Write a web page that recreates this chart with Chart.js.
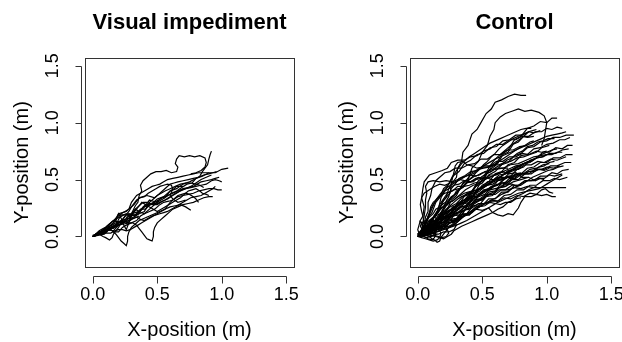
<!DOCTYPE html>
<html>
<head>
<meta charset="utf-8">
<script src="https://cdn.jsdelivr.net/npm/chart.js@4.4.1/dist/chart.umd.min.js"></script>
<style>
html,body{margin:0;padding:0;background:#fff;overflow:hidden;width:622px;height:342px;}
canvas{position:absolute;top:0;}
#c1{left:0px;}
#c2{left:311px;}
</style>
</head>
<body>
<canvas id="c1" width="379" height="342"></canvas>
<canvas id="c2" width="407" height="342"></canvas>
<script>
const panelTitles = ['Visual impediment', 'Control'];
const xAxisTitle = 'X-position (m)';
const yAxisTitle = 'Y-position (m)';
const xTickValues = [0, 0.5, 1.0, 1.5];
const yTickValues = [0, 0.5, 1.0, 1.5];
const xLimits = [-0.06, 1.56];
const yLimits = [-0.268, 1.568];

// Visual impediment trajectories: x,y pairs (m)
const impedimentTrials = [
 [0,0, 0.04,0.03, 0.08,0.02, 0.12,0.06, 0.16,0.05, 0.2,0.1, 0.24,0.12, 0.27,0.18, 0.3,0.2, 0.33,0.27, 0.35,0.3, 0.36,0.36, 0.38,0.4, 0.37,0.45, 0.39,0.49, 0.42,0.52, 0.45,0.55, 0.49,0.57, 0.53,0.57, 0.57,0.58, 0.61,0.56, 0.65,0.57, 0.66,0.61, 0.64,0.64, 0.65,0.68, 0.67,0.71, 0.71,0.7, 0.75,0.71, 0.79,0.7, 0.83,0.71, 0.87,0.69, 0.88,0.65, 0.87,0.61, 0.84,0.58, 0.8,0.56, 0.76,0.55],
 [0,0, 0.05,0.04, 0.09,0.04, 0.13,0.08, 0.17,0.08, 0.21,0.13, 0.25,0.14, 0.29,0.19, 0.33,0.19, 0.37,0.24, 0.41,0.24, 0.45,0.29, 0.49,0.29, 0.53,0.34, 0.57,0.35, 0.61,0.38, 0.65,0.4, 0.69,0.43, 0.73,0.46, 0.77,0.47, 0.8,0.51, 0.83,0.53, 0.85,0.57, 0.87,0.6, 0.89,0.63, 0.9,0.68, 0.91,0.72, 0.92,0.75],
 [0,0, 0.05,0.02, 0.1,0.06, 0.15,0.07, 0.2,0.12, 0.25,0.13, 0.3,0.18, 0.35,0.2, 0.4,0.26, 0.45,0.28, 0.5,0.33, 0.55,0.35, 0.6,0.4, 0.65,0.42, 0.7,0.46, 0.75,0.48, 0.8,0.51, 0.85,0.53, 0.9,0.56, 0.95,0.56, 1.0,0.59, 1.05,0.6],
 [0.02,0.01, 0.06,0.03, 0.1,0.04, 0.14,0.08, 0.18,0.1, 0.2,0.15, 0.22,0.19, 0.26,0.19, 0.3,0.2, 0.33,0.24, 0.36,0.27, 0.39,0.3, 0.42,0.3, 0.46,0.28, 0.5,0.28, 0.54,0.31, 0.58,0.33, 0.62,0.36, 0.65,0.38, 0.69,0.41, 0.72,0.42, 0.76,0.43, 0.8,0.44, 0.84,0.45, 0.88,0.46, 0.92,0.49, 0.95,0.5, 0.98,0.49, 1.0,0.48],
 [0,0, 0.04,0.01, 0.08,0.02, 0.11,0.05, 0.14,0.06, 0.17,0.04, 0.2,0.04, 0.23,0.08, 0.26,0.1, 0.3,0.12, 0.34,0.14, 0.37,0.18, 0.4,0.2, 0.44,0.22, 0.48,0.24, 0.52,0.28, 0.55,0.3, 0.59,0.31, 0.62,0.32, 0.66,0.35, 0.7,0.36, 0.74,0.37, 0.78,0.38, 0.82,0.4, 0.86,0.41, 0.9,0.42, 0.94,0.42, 0.97,0.41, 1.0,0.41],
 [0,0, 0.03,0.01, 0.06,0.02, 0.09,0.05, 0.12,0.07, 0.16,0.08, 0.2,0.1, 0.24,0.11, 0.28,0.12, 0.31,0.12, 0.34,0.1, 0.36,0.07, 0.38,0.04, 0.4,0.01, 0.42,-0.02, 0.44,-0.03, 0.46,-0.04, 0.47,0.0, 0.47,0.04, 0.48,0.08, 0.5,0.12, 0.53,0.15, 0.56,0.18, 0.59,0.21, 0.62,0.24, 0.66,0.26, 0.7,0.28, 0.74,0.29, 0.78,0.3, 0.82,0.32, 0.86,0.34, 0.9,0.35, 0.93,0.35],
 [0.01,0, 0.04,0.02, 0.07,0.04, 0.1,0.05, 0.14,0.06, 0.16,0.04, 0.18,0.02, 0.2,-0.01, 0.22,-0.04, 0.24,-0.06, 0.26,-0.08, 0.27,-0.04, 0.27,0.0, 0.28,0.04, 0.3,0.08, 0.33,0.11, 0.36,0.14, 0.4,0.16, 0.44,0.18, 0.48,0.2, 0.52,0.22, 0.56,0.24, 0.6,0.26, 0.64,0.27, 0.68,0.28, 0.72,0.26, 0.76,0.23],
 [0,0, 0.03,0.02, 0.05,0.02, 0.08,0.0, 0.1,-0.01, 0.13,-0.03, 0.15,-0.01, 0.16,0.02, 0.18,0.05, 0.2,0.08, 0.22,0.12, 0.24,0.16, 0.26,0.19, 0.28,0.2, 0.31,0.19, 0.33,0.18, 0.36,0.2, 0.4,0.22, 0.42,0.26, 0.44,0.3, 0.47,0.33, 0.5,0.36, 0.53,0.38, 0.56,0.4, 0.6,0.42, 0.64,0.44, 0.68,0.46, 0.72,0.47, 0.76,0.47, 0.8,0.46, 0.83,0.45, 0.86,0.43],
 [0,0.01, 0.05,0.03, 0.1,0.05, 0.13,0.09, 0.16,0.12, 0.18,0.16, 0.2,0.2, 0.23,0.21, 0.26,0.22, 0.29,0.25, 0.32,0.28, 0.34,0.31, 0.36,0.34, 0.39,0.35, 0.42,0.36, 0.45,0.35, 0.48,0.34, 0.51,0.37, 0.54,0.4, 0.57,0.43, 0.6,0.46, 0.63,0.47, 0.66,0.48, 0.7,0.49, 0.74,0.5, 0.78,0.51, 0.82,0.52, 0.86,0.54, 0.9,0.55, 0.93,0.56, 0.96,0.57],
 [0.02,0.02, 0.05,0.04, 0.08,0.06, 0.11,0.08, 0.15,0.1, 0.18,0.12, 0.22,0.14, 0.25,0.15, 0.28,0.16, 0.31,0.2, 0.34,0.24, 0.36,0.27, 0.38,0.3, 0.41,0.28, 0.44,0.26, 0.47,0.24, 0.5,0.22, 0.53,0.24, 0.56,0.26, 0.59,0.28, 0.62,0.3, 0.65,0.32, 0.68,0.34, 0.71,0.37, 0.74,0.4, 0.77,0.41, 0.8,0.42, 0.83,0.4, 0.85,0.38, 0.88,0.37, 0.9,0.36],
 [0,0, 0.04,0.02, 0.07,0.03, 0.1,0.06, 0.14,0.08, 0.17,0.1, 0.2,0.12, 0.23,0.15, 0.25,0.18, 0.28,0.22, 0.3,0.26, 0.32,0.29, 0.34,0.32, 0.37,0.34, 0.4,0.35, 0.43,0.38, 0.46,0.4, 0.49,0.42, 0.52,0.44, 0.55,0.45, 0.58,0.46, 0.61,0.45, 0.62,0.42, 0.61,0.39, 0.6,0.36, 0.62,0.33, 0.66,0.3, 0.69,0.31, 0.72,0.32],
 [0,0, 0.05,0.02, 0.09,0.04, 0.13,0.07, 0.17,0.09, 0.21,0.11, 0.26,0.13, 0.3,0.15, 0.34,0.17, 0.37,0.15, 0.4,0.14, 0.43,0.16, 0.46,0.18, 0.49,0.19, 0.52,0.2, 0.55,0.21, 0.58,0.22, 0.61,0.24, 0.64,0.26, 0.67,0.28, 0.7,0.3, 0.73,0.32, 0.76,0.34, 0.8,0.35, 0.84,0.36, 0.87,0.38, 0.9,0.4, 0.93,0.42, 0.95,0.44],
 [0,0, 0.03,0.02, 0.06,0.04, 0.09,0.07, 0.12,0.1, 0.15,0.13, 0.18,0.16, 0.2,0.18, 0.22,0.2, 0.25,0.22, 0.28,0.24, 0.29,0.27, 0.3,0.3, 0.32,0.33, 0.34,0.36, 0.37,0.38, 0.4,0.4, 0.43,0.42, 0.46,0.44, 0.49,0.45, 0.52,0.46, 0.55,0.48, 0.58,0.5, 0.62,0.51, 0.66,0.52, 0.7,0.53, 0.74,0.54, 0.78,0.55, 0.82,0.56, 0.86,0.56, 0.9,0.56],
 [0.01,0.01, 0.04,0.02, 0.08,0.03, 0.11,0.03, 0.14,0.03, 0.17,0.05, 0.2,0.06, 0.23,0.06, 0.26,0.05, 0.29,0.06, 0.32,0.08, 0.35,0.1, 0.38,0.12, 0.41,0.14, 0.44,0.16, 0.47,0.18, 0.5,0.2, 0.53,0.22, 0.56,0.24, 0.58,0.27, 0.6,0.3, 0.63,0.33, 0.66,0.36, 0.69,0.37, 0.72,0.38, 0.75,0.37, 0.78,0.35, 0.8,0.33, 0.82,0.3],
 [0,0, 0.03,0.03, 0.05,0.05, 0.08,0.07, 0.1,0.08, 0.13,0.11, 0.16,0.14, 0.19,0.13, 0.22,0.12, 0.25,0.13, 0.28,0.14, 0.29,0.17, 0.3,0.2, 0.33,0.21, 0.36,0.22, 0.39,0.25, 0.42,0.28, 0.45,0.29, 0.48,0.3, 0.51,0.32, 0.54,0.34, 0.58,0.36, 0.62,0.38, 0.66,0.4, 0.7,0.42, 0.74,0.43, 0.78,0.44, 0.81,0.46, 0.84,0.48, 0.88,0.49, 0.92,0.5, 0.95,0.51, 0.98,0.52],
 [0,0, 0.02,0.01, 0.04,0.02, 0.06,0.04, 0.09,0.06, 0.11,0.09, 0.13,0.11, 0.15,0.13, 0.17,0.14, 0.19,0.16, 0.21,0.17, 0.24,0.19, 0.26,0.2, 0.28,0.18, 0.3,0.16, 0.33,0.18, 0.35,0.2, 0.37,0.23, 0.39,0.26, 0.42,0.29, 0.44,0.32, 0.47,0.31, 0.5,0.3, 0.53,0.32, 0.56,0.34, 0.58,0.37, 0.6,0.4, 0.63,0.42, 0.65,0.44, 0.7,0.44],
 [0.01,0.0, 0.03,0.02, 0.05,0.03, 0.07,0.02, 0.09,0.02, 0.11,0.04, 0.12,0.06, 0.14,0.07, 0.16,0.07, 0.18,0.09, 0.2,0.1, 0.22,0.12, 0.23,0.14, 0.25,0.13, 0.27,0.12, 0.29,0.14, 0.31,0.16, 0.34,0.17, 0.36,0.18],
 [0,0, 0.05,0.03, 0.1,0.06, 0.14,0.1, 0.18,0.14, 0.2,0.2, 0.22,0.16, 0.24,0.1, 0.26,0.06, 0.28,0.12, 0.3,0.18, 0.33,0.24, 0.36,0.22, 0.4,0.2, 0.44,0.24, 0.48,0.28, 0.52,0.3, 0.56,0.32, 0.6,0.35, 0.64,0.38, 0.68,0.4, 0.72,0.42, 0.76,0.44, 0.8,0.47, 0.84,0.5, 0.88,0.52, 0.92,0.54]
];

// Control trajectories: x,y pairs (m)
const controlTrials = [
 [0.02,0.02, 0.06,0.08, 0.1,0.1, 0.14,0.2, 0.17,0.24, 0.2,0.32, 0.25,0.38, 0.26,0.46, 0.3,0.52, 0.31,0.6, 0.34,0.66, 0.35,0.74, 0.39,0.8, 0.42,0.9, 0.46,0.94, 0.49,1.0, 0.53,1.08, 0.57,1.12, 0.6,1.18, 0.65,1.2, 0.7,1.23, 0.75,1.25, 0.8,1.24, 0.84,1.24],
 [0.03,0.0, 0.07,0.06, 0.1,0.08, 0.15,0.14, 0.18,0.2, 0.23,0.24, 0.26,0.32, 0.3,0.36, 0.34,0.45, 0.39,0.5, 0.42,0.6, 0.47,0.66, 0.5,0.74, 0.54,0.8, 0.56,0.88, 0.59,0.94, 0.6,1.0, 0.64,1.05, 0.68,1.08, 0.73,1.1, 0.78,1.12, 0.83,1.1, 0.88,1.11, 0.94,1.09, 0.98,1.06, 1.0,1.0, 0.99,0.93, 0.98,0.86, 0.96,0.8],
 [0,0, 0.05,0.04, 0.1,0.05, 0.15,0.11, 0.2,0.13, 0.25,0.2, 0.3,0.23, 0.35,0.31, 0.4,0.35, 0.45,0.44, 0.5,0.49, 0.55,0.58, 0.6,0.62, 0.65,0.72, 0.7,0.76, 0.75,0.85, 0.8,0.88, 0.85,0.95, 0.9,0.97, 0.95,1.01, 1.0,1.0, 1.04,1.04, 1.08,1.04],
 [0.02,0.01, 0.07,0.07, 0.12,0.08, 0.17,0.16, 0.22,0.18, 0.27,0.26, 0.32,0.28, 0.37,0.37, 0.42,0.4, 0.47,0.49, 0.52,0.52, 0.57,0.61, 0.62,0.64, 0.66,0.72, 0.7,0.74, 0.74,0.81, 0.78,0.83, 0.82,0.88, 0.86,0.88, 0.91,0.92, 0.96,0.92, 1.0,0.95, 1.04,0.94, 1.08,0.96, 1.12,0.95],
 [0.01,0.03, 0.06,0.06, 0.1,0.12, 0.15,0.15, 0.2,0.2, 0.25,0.26, 0.3,0.29, 0.35,0.35, 0.4,0.37, 0.45,0.44, 0.5,0.47, 0.55,0.54, 0.6,0.57, 0.65,0.63, 0.7,0.65, 0.75,0.71, 0.8,0.73, 0.85,0.78, 0.9,0.79, 0.95,0.83, 1.0,0.84, 1.05,0.87, 1.1,0.87, 1.15,0.89, 1.21,0.89],
 [0,0.02, 0.05,0.04, 0.1,0.09, 0.15,0.1, 0.2,0.17, 0.25,0.2, 0.3,0.27, 0.35,0.29, 0.4,0.35, 0.45,0.38, 0.5,0.45, 0.55,0.48, 0.6,0.55, 0.65,0.57, 0.7,0.63, 0.75,0.65, 0.8,0.71, 0.85,0.72, 0.9,0.77, 0.95,0.78, 1.0,0.81, 1.05,0.82, 1.1,0.85, 1.14,0.85, 1.18,0.87],
 [0.02,0.0, 0.07,0.04, 0.12,0.05, 0.17,0.11, 0.22,0.13, 0.27,0.19, 0.32,0.21, 0.37,0.27, 0.42,0.29, 0.47,0.35, 0.52,0.37, 0.57,0.43, 0.62,0.45, 0.67,0.51, 0.72,0.53, 0.77,0.59, 0.82,0.61, 0.87,0.67, 0.92,0.69, 0.97,0.74, 1.02,0.74, 1.07,0.78, 1.12,0.77, 1.16,0.8, 1.2,0.8],
 [0.01,0.01, 0.05,0.05, 0.09,0.04, 0.13,0.1, 0.17,0.12, 0.22,0.17, 0.27,0.19, 0.32,0.25, 0.37,0.27, 0.42,0.33, 0.47,0.35, 0.52,0.41, 0.57,0.43, 0.62,0.49, 0.67,0.51, 0.72,0.57, 0.77,0.59, 0.82,0.64, 0.87,0.65, 0.92,0.69, 0.97,0.7, 1.02,0.73, 1.07,0.73, 1.12,0.76, 1.17,0.77],
 [0,0, 0.05,0.03, 0.1,0.03, 0.15,0.08, 0.2,0.09, 0.25,0.15, 0.3,0.16, 0.35,0.23, 0.4,0.24, 0.45,0.31, 0.5,0.32, 0.55,0.39, 0.6,0.4, 0.65,0.47, 0.7,0.48, 0.75,0.54, 0.8,0.55, 0.85,0.6, 0.9,0.61, 0.95,0.65, 1.0,0.65, 1.05,0.69, 1.1,0.69, 1.15,0.72, 1.2,0.72],
 [0.03,0.02, 0.08,0.07, 0.12,0.09, 0.17,0.15, 0.22,0.17, 0.27,0.23, 0.32,0.25, 0.37,0.32, 0.42,0.34, 0.46,0.41, 0.5,0.43, 0.54,0.48, 0.58,0.49, 0.63,0.54, 0.68,0.55, 0.73,0.59, 0.78,0.59, 0.83,0.63, 0.88,0.63, 0.93,0.66, 0.98,0.65, 1.03,0.68, 1.08,0.67, 1.15,0.7],
 [0,0.01, 0.04,0.03, 0.08,0.02, 0.13,0.06, 0.18,0.07, 0.23,0.12, 0.28,0.13, 0.33,0.19, 0.38,0.2, 0.43,0.27, 0.48,0.28, 0.53,0.35, 0.58,0.36, 0.63,0.43, 0.68,0.44, 0.73,0.5, 0.78,0.5, 0.83,0.55, 0.88,0.55, 0.93,0.59, 0.98,0.59, 1.03,0.62, 1.08,0.62, 1.14,0.65, 1.19,0.65],
 [0.02,0.02, 0.06,0.07, 0.1,0.09, 0.14,0.14, 0.18,0.15, 0.22,0.22, 0.26,0.23, 0.31,0.29, 0.36,0.29, 0.41,0.35, 0.46,0.35, 0.51,0.41, 0.56,0.41, 0.61,0.46, 0.66,0.45, 0.71,0.51, 0.76,0.51, 0.81,0.55, 0.86,0.55, 0.91,0.59, 0.96,0.59, 1.0,0.61, 1.05,0.6, 1.1,0.62],
 [0.01,0.0, 0.05,0.02, 0.1,0.02, 0.15,0.06, 0.2,0.07, 0.25,0.12, 0.3,0.13, 0.35,0.18, 0.4,0.19, 0.45,0.26, 0.5,0.27, 0.55,0.33, 0.6,0.33, 0.65,0.39, 0.7,0.39, 0.75,0.45, 0.8,0.45, 0.85,0.49, 0.9,0.49, 0.95,0.53, 1.0,0.53, 1.04,0.56, 1.08,0.55, 1.12,0.58, 1.17,0.59],
 [0,0, 0.04,0.04, 0.08,0.05, 0.13,0.11, 0.18,0.13, 0.23,0.18, 0.28,0.21, 0.33,0.26, 0.38,0.27, 0.43,0.32, 0.48,0.33, 0.53,0.37, 0.58,0.37, 0.63,0.41, 0.68,0.41, 0.73,0.45, 0.78,0.45, 0.83,0.49, 0.88,0.49, 0.93,0.51, 0.98,0.51, 1.02,0.54, 1.06,0.53, 1.12,0.55],
 [0.02,0.01, 0.07,0.03, 0.12,0.03, 0.17,0.08, 0.22,0.09, 0.27,0.14, 0.32,0.15, 0.37,0.2, 0.42,0.21, 0.47,0.26, 0.52,0.27, 0.57,0.31, 0.62,0.31, 0.67,0.36, 0.72,0.37, 0.77,0.41, 0.82,0.41, 0.87,0.45, 0.92,0.45, 0.97,0.49, 1.02,0.49, 1.06,0.51, 1.1,0.5, 1.16,0.52],
 [0,0, 0.05,0.03, 0.1,0.04, 0.15,0.09, 0.2,0.11, 0.25,0.17, 0.3,0.19, 0.35,0.25, 0.4,0.27, 0.45,0.32, 0.5,0.33, 0.55,0.37, 0.6,0.37, 0.65,0.41, 0.7,0.41, 0.75,0.43, 0.8,0.42, 0.85,0.44, 0.9,0.43, 1.0,0.43, 1.08,0.43, 1.15,0.43],
 [0.01,0.01, 0.06,0.03, 0.1,0.03, 0.15,0.08, 0.2,0.09, 0.25,0.14, 0.3,0.15, 0.35,0.2, 0.4,0.19, 0.45,0.24, 0.5,0.23, 0.55,0.25, 0.58,0.21, 0.62,0.19, 0.66,0.18, 0.7,0.2, 0.74,0.19, 0.78,0.25, 0.8,0.3, 0.83,0.35, 0.88,0.35, 0.92,0.37, 0.96,0.36, 1.0,0.37, 1.04,0.35, 1.07,0.35],
 [0.02,0.03, 0.07,0.05, 0.12,0.07, 0.17,0.12, 0.22,0.13, 0.27,0.18, 0.32,0.19, 0.37,0.24, 0.42,0.25, 0.47,0.29, 0.52,0.29, 0.57,0.32, 0.62,0.31, 0.67,0.34, 0.72,0.33, 0.77,0.36, 0.82,0.35, 0.87,0.38, 0.92,0.37, 0.96,0.41, 0.99,0.42, 1.02,0.39, 1.05,0.38],
 [0.01,0.02, 0.04,0.07, 0.06,0.1, 0.09,0.18, 0.11,0.21, 0.14,0.3, 0.17,0.34, 0.2,0.42, 0.24,0.46, 0.27,0.53, 0.32,0.57, 0.36,0.64, 0.41,0.67, 0.46,0.72, 0.51,0.73, 0.56,0.78, 0.61,0.79, 0.66,0.84, 0.71,0.85, 0.76,0.89, 0.81,0.89, 0.86,0.92, 0.9,0.91, 0.95,0.93],
 [0.03,0.04, 0.05,0.1, 0.04,0.18, 0.05,0.26, 0.03,0.34, 0.04,0.42, 0.05,0.48, 0.09,0.54, 0.14,0.56, 0.19,0.58, 0.23,0.6, 0.26,0.65, 0.31,0.67, 0.36,0.67, 0.41,0.7, 0.46,0.71, 0.51,0.75, 0.56,0.77, 0.61,0.81, 0.66,0.81, 0.71,0.85, 0.76,0.85, 0.81,0.88, 0.85,0.87, 0.9,0.88],
 [0,0, 0.03,0.05, 0.05,0.1, 0.06,0.17, 0.08,0.22, 0.08,0.3, 0.1,0.36, 0.11,0.42, 0.14,0.49, 0.17,0.52, 0.21,0.56, 0.25,0.57, 0.29,0.6, 0.34,0.6, 0.39,0.63, 0.44,0.64, 0.49,0.68, 0.54,0.68, 0.59,0.72, 0.64,0.72, 0.69,0.76, 0.74,0.76, 0.79,0.79, 0.85,0.8],
 [0.02,0.0, 0.06,0.04, 0.1,0.06, 0.13,0.11, 0.16,0.15, 0.18,0.21, 0.2,0.25, 0.22,0.31, 0.24,0.35, 0.26,0.42, 0.29,0.46, 0.32,0.51, 0.36,0.53, 0.41,0.57, 0.46,0.58, 0.51,0.62, 0.56,0.62, 0.61,0.66, 0.66,0.66, 0.71,0.7, 0.76,0.7, 0.81,0.73, 0.86,0.72, 0.92,0.75, 0.96,0.74, 1.0,0.75],
 [0,0.02, 0.04,0.05, 0.06,0.09, 0.1,0.12, 0.12,0.17, 0.15,0.22, 0.17,0.28, 0.2,0.33, 0.23,0.38, 0.27,0.4, 0.31,0.44, 0.35,0.44, 0.39,0.48, 0.43,0.48, 0.47,0.52, 0.52,0.51, 0.56,0.54, 0.61,0.54, 0.66,0.57, 0.71,0.55, 0.76,0.56, 0.81,0.52, 0.86,0.52, 0.91,0.49, 0.95,0.51, 0.98,0.5],
 [0.01,0.0, 0.05,0.03, 0.08,0.03, 0.11,0.08, 0.14,0.1, 0.17,0.16, 0.21,0.18, 0.25,0.23, 0.29,0.24, 0.33,0.29, 0.37,0.3, 0.41,0.34, 0.45,0.34, 0.49,0.39, 0.53,0.4, 0.57,0.44, 0.61,0.45, 0.65,0.47, 0.69,0.46, 0.73,0.46, 0.77,0.44, 0.8,0.45],
 [0.02,0.02, 0.06,0.08, 0.09,0.12, 0.13,0.18, 0.16,0.22, 0.19,0.3, 0.22,0.34, 0.24,0.42, 0.26,0.46, 0.27,0.52, 0.28,0.56, 0.29,0.62, 0.31,0.65, 0.35,0.66, 0.38,0.63, 0.42,0.62, 0.46,0.6, 0.5,0.61, 0.54,0.61, 0.58,0.63, 0.63,0.63, 0.67,0.65, 0.72,0.66, 0.77,0.69, 0.82,0.7, 0.87,0.72, 0.92,0.74, 0.96,0.78, 1.02,0.8],
 [0,0, 0.04,0.02, 0.08,0.05, 0.12,0.06, 0.16,0.1, 0.2,0.1, 0.24,0.08, 0.28,0.1, 0.31,0.13, 0.35,0.17, 0.39,0.2, 0.43,0.24, 0.47,0.27, 0.51,0.29, 0.56,0.3, 0.6,0.29, 0.64,0.28, 0.68,0.3, 0.72,0.3, 0.76,0.33, 0.8,0.34],
 [0.01,0.01, 0.03,0.05, 0.05,0.08, 0.07,0.14, 0.08,0.18, 0.1,0.24, 0.12,0.28, 0.15,0.33, 0.18,0.36, 0.21,0.4, 0.24,0.42, 0.28,0.45, 0.32,0.46, 0.36,0.49, 0.4,0.5, 0.44,0.53, 0.48,0.54, 0.52,0.57, 0.56,0.58, 0.6,0.6, 0.64,0.6, 0.7,0.6],
 [0,0, 0.03,-0.01, 0.06,-0.02, 0.09,-0.03, 0.12,-0.04, 0.15,-0.03, 0.17,-0.01, 0.18,0.03, 0.16,0.07, 0.13,0.08, 0.1,0.06, 0.1,0.1, 0.12,0.13, 0.15,0.14, 0.18,0.17, 0.21,0.2, 0.24,0.23, 0.28,0.25, 0.32,0.3, 0.36,0.32, 0.4,0.37, 0.45,0.39, 0.5,0.44, 0.55,0.46, 0.6,0.51, 0.65,0.53, 0.7,0.58, 0.75,0.59, 0.8,0.63, 0.86,0.66],
 [0.02,0.02, 0.06,0.01, 0.1,0.0, 0.13,0.02, 0.16,0.02, 0.2,0.04, 0.24,0.04, 0.28,0.06, 0.3,0.1, 0.28,0.13, 0.26,0.15, 0.28,0.19, 0.31,0.21, 0.35,0.22, 0.39,0.25, 0.43,0.28, 0.47,0.31, 0.51,0.33, 0.55,0.37, 0.59,0.39, 0.63,0.43, 0.67,0.45, 0.71,0.49, 0.75,0.51, 0.79,0.55, 0.83,0.56, 0.87,0.59, 0.92,0.6, 0.97,0.63, 1.02,0.64],
 [0,0.01, 0.03,0.03, 0.04,0.05, 0.02,0.09, 0.03,0.12, 0.06,0.14, 0.09,0.17, 0.12,0.2, 0.14,0.24, 0.17,0.26, 0.2,0.29, 0.23,0.31, 0.26,0.35, 0.29,0.37, 0.32,0.41, 0.35,0.43, 0.38,0.47, 0.41,0.48, 0.45,0.51, 0.49,0.52, 0.53,0.55, 0.57,0.57, 0.61,0.61, 0.65,0.63, 0.69,0.67, 0.73,0.69, 0.77,0.73, 0.81,0.75, 0.85,0.79, 0.89,0.8, 0.93,0.83, 0.97,0.84, 1.01,0.86, 1.06,0.86],
 [0.03,0.01, 0.05,0.05, 0.08,0.06, 0.1,0.1, 0.13,0.12, 0.15,0.17, 0.18,0.2, 0.2,0.25, 0.23,0.28, 0.25,0.33, 0.28,0.36, 0.3,0.4, 0.33,0.42, 0.35,0.47, 0.38,0.5, 0.41,0.54, 0.44,0.56, 0.47,0.59, 0.51,0.6, 0.55,0.61, 0.59,0.63, 0.63,0.66, 0.67,0.69, 0.71,0.72, 0.75,0.75, 0.79,0.78, 0.83,0.8, 0.87,0.83, 0.9,0.84],
 [0,0, 0.04,0.02, 0.07,0.02, 0.1,0.01, 0.14,0.0, 0.17,-0.01, 0.2,-0.02, 0.23,0.0, 0.26,0.02, 0.28,0.05, 0.31,0.07, 0.34,0.09, 0.38,0.11, 0.42,0.13, 0.46,0.15, 0.5,0.17, 0.54,0.19, 0.58,0.21, 0.62,0.24, 0.66,0.26, 0.7,0.3, 0.74,0.32, 0.78,0.36, 0.82,0.38, 0.86,0.41, 0.92,0.44],
 [0.01,0.0, 0.03,0.02, 0.05,0.02, 0.07,0.01, 0.09,0.0, 0.11,-0.02, 0.13,-0.03, 0.15,-0.05, 0.17,-0.04, 0.18,-0.01, 0.2,0.02, 0.22,0.05, 0.24,0.08, 0.27,0.1, 0.3,0.12, 0.33,0.15, 0.36,0.18, 0.39,0.2, 0.42,0.22, 0.45,0.24, 0.48,0.26],
 [0.02,0.02, 0.04,0.05, 0.06,0.06, 0.08,0.05, 0.1,0.05, 0.12,0.07, 0.14,0.08, 0.17,0.11, 0.2,0.12, 0.23,0.16, 0.26,0.18, 0.29,0.22, 0.32,0.24, 0.36,0.29, 0.4,0.32, 0.44,0.37, 0.48,0.4, 0.52,0.44, 0.56,0.46, 0.6,0.5, 0.64,0.52, 0.68,0.56, 0.72,0.58, 0.76,0.61, 0.8,0.62, 0.84,0.65, 0.88,0.66, 0.92,0.69, 0.96,0.7, 1.0,0.72, 1.04,0.72, 1.08,0.74, 1.12,0.74],
 [0.01,0.02, 0.03,0.06, 0.04,0.12, 0.05,0.18, 0.06,0.26, 0.06,0.32, 0.07,0.38, 0.06,0.44, 0.08,0.48, 0.12,0.49, 0.17,0.48, 0.22,0.49, 0.27,0.48, 0.31,0.5, 0.35,0.52, 0.4,0.54, 0.45,0.53, 0.5,0.56, 0.55,0.56, 0.6,0.59, 0.66,0.6, 0.72,0.63, 0.78,0.64, 0.84,0.67, 0.9,0.7, 1.0,0.72],
 [0.02,0.0, 0.0,0.06, 0.01,0.1, 0.02,0.14, 0.04,0.18, 0.03,0.22, 0.02,0.28, 0.03,0.34, 0.05,0.38, 0.09,0.41, 0.13,0.44, 0.17,0.46, 0.21,0.45, 0.25,0.47, 0.29,0.48, 0.33,0.5, 0.37,0.49, 0.41,0.48, 0.45,0.5, 0.49,0.51, 0.53,0.52, 0.57,0.5, 0.61,0.5, 0.65,0.52, 0.68,0.52],
 [0,0.02, 0.03,0.04, 0.05,0.06, 0.08,0.08, 0.1,0.11, 0.11,0.15, 0.13,0.18, 0.16,0.21, 0.18,0.25, 0.21,0.27, 0.24,0.3, 0.27,0.31, 0.3,0.34, 0.33,0.36, 0.36,0.38, 0.39,0.39, 0.42,0.4, 0.46,0.41, 0.5,0.42, 0.54,0.45, 0.58,0.46, 0.62,0.49, 0.66,0.5, 0.7,0.52, 0.74,0.52, 0.78,0.54, 0.82,0.54, 0.86,0.57, 0.9,0.58, 0.94,0.61, 0.98,0.62, 1.02,0.65, 1.06,0.66],
 [0.02,0.01, 0.06,0.01, 0.1,0.02, 0.14,0.04, 0.18,0.06, 0.22,0.08, 0.26,0.1, 0.29,0.13, 0.32,0.16, 0.34,0.19, 0.36,0.22, 0.38,0.26, 0.4,0.3, 0.42,0.34, 0.44,0.38, 0.46,0.42, 0.48,0.46, 0.5,0.5, 0.52,0.54, 0.54,0.58, 0.56,0.62, 0.58,0.65, 0.6,0.68, 0.63,0.71, 0.66,0.74, 0.69,0.77, 0.72,0.8, 0.76,0.83, 0.8,0.86, 0.83,0.89, 0.86,0.92, 0.89,0.93, 0.92,0.94],
 [0.01,0.02, 0.05,0.05, 0.08,0.08, 0.1,0.12, 0.12,0.16, 0.14,0.2, 0.16,0.24, 0.17,0.29, 0.18,0.34, 0.2,0.38, 0.22,0.42, 0.24,0.46, 0.26,0.5, 0.28,0.54, 0.3,0.58, 0.32,0.61, 0.34,0.64, 0.37,0.67, 0.4,0.7, 0.44,0.73, 0.48,0.76, 0.52,0.79, 0.56,0.82, 0.6,0.84, 0.64,0.86, 0.68,0.88, 0.72,0.9, 0.76,0.92, 0.8,0.94, 0.84,0.95, 0.88,0.95],
 [0,0, 0.05,0.01, 0.1,0.02, 0.15,0.04, 0.2,0.06, 0.25,0.08, 0.3,0.1, 0.34,0.12, 0.38,0.14, 0.41,0.16, 0.44,0.18, 0.47,0.2, 0.5,0.22, 0.53,0.24, 0.56,0.26, 0.59,0.28, 0.62,0.3, 0.66,0.32, 0.7,0.34, 0.74,0.36, 0.78,0.38, 0.82,0.39, 0.86,0.4, 0.9,0.41, 0.94,0.42, 0.97,0.44, 1.0,0.46, 1.03,0.48, 1.06,0.5, 1.09,0.52, 1.12,0.54],
 [0.03,0.03, 0.06,0.03, 0.1,0.04, 0.13,0.06, 0.16,0.08, 0.19,0.1, 0.22,0.12, 0.24,0.16, 0.26,0.2, 0.28,0.24, 0.3,0.28, 0.33,0.3, 0.36,0.32, 0.4,0.34, 0.44,0.36, 0.48,0.38, 0.52,0.4, 0.56,0.41, 0.6,0.42, 0.64,0.43, 0.68,0.44, 0.71,0.46, 0.74,0.48, 0.77,0.49, 0.8,0.5, 0.83,0.51, 0.86,0.52],
 [0.02,0.02, 0.04,0.07, 0.06,0.12, 0.08,0.17, 0.1,0.22, 0.12,0.27, 0.14,0.32, 0.16,0.35, 0.18,0.38, 0.21,0.41, 0.24,0.44, 0.27,0.46, 0.3,0.48, 0.33,0.5, 0.36,0.52, 0.39,0.54, 0.42,0.56, 0.45,0.58, 0.48,0.6, 0.51,0.62, 0.54,0.64, 0.57,0.66, 0.6,0.68, 0.64,0.7, 0.68,0.72, 0.72,0.74, 0.76,0.76, 0.8,0.78, 0.84,0.8, 0.88,0.82, 0.92,0.84, 0.96,0.86, 1.0,0.88, 1.04,0.89, 1.08,0.9, 1.12,0.91, 1.15,0.92],
 [0,0, 0.04,0.03, 0.08,0.06, 0.12,0.1, 0.16,0.12, 0.2,0.16, 0.24,0.19, 0.28,0.23, 0.31,0.27, 0.34,0.3, 0.37,0.29, 0.4,0.3, 0.43,0.33, 0.46,0.36, 0.49,0.37, 0.52,0.39, 0.55,0.42, 0.58,0.44, 0.61,0.45, 0.64,0.47, 0.67,0.5, 0.7,0.52, 0.73,0.53, 0.76,0.55, 0.8,0.56],
 [0.01,0.01, 0.04,0.04, 0.06,0.08, 0.09,0.11, 0.11,0.15, 0.14,0.18, 0.17,0.2, 0.2,0.23, 0.22,0.27, 0.25,0.3, 0.28,0.32, 0.31,0.35, 0.34,0.38, 0.37,0.41, 0.4,0.43, 0.43,0.45, 0.46,0.46, 0.49,0.48, 0.52,0.5, 0.55,0.52, 0.58,0.53, 0.61,0.55, 0.64,0.56, 0.67,0.57],
 [0,0.01, 0.02,0.04, 0.04,0.06, 0.06,0.03, 0.08,0.02, 0.09,0.05, 0.08,0.09, 0.07,0.12, 0.09,0.14, 0.11,0.16, 0.13,0.13, 0.15,0.11, 0.16,0.14, 0.17,0.17, 0.19,0.19, 0.22,0.21, 0.25,0.23, 0.28,0.26],
 [0.01,0.0, 0.03,0.04, 0.04,0.08, 0.03,0.11, 0.02,0.13, 0.04,0.12, 0.06,0.1, 0.08,0.07, 0.1,0.04, 0.12,0.03, 0.14,0.02, 0.13,0.05, 0.12,0.08, 0.1,0.11, 0.09,0.13, 0.11,0.15, 0.13,0.17, 0.15,0.15, 0.17,0.13, 0.19,0.14, 0.2,0.16],
 [0.02,0.01, 0.05,0.0, 0.08,-0.02, 0.11,-0.03, 0.13,-0.01, 0.14,0.02, 0.13,0.05, 0.11,0.07, 0.09,0.09, 0.1,0.12, 0.13,0.14, 0.16,0.17, 0.19,0.2, 0.22,0.24, 0.25,0.27, 0.28,0.3, 0.31,0.33, 0.34,0.35, 0.38,0.37, 0.42,0.39, 0.46,0.41, 0.5,0.44, 0.54,0.46, 0.58,0.49, 0.62,0.51, 0.66,0.54, 0.7,0.56, 0.74,0.59, 0.78,0.62, 0.82,0.64],
 [0.01,0.01, 0.04,0.0, 0.07,-0.01, 0.1,0.0, 0.13,0.01, 0.16,0.0, 0.19,-0.01, 0.22,0.0, 0.24,0.03, 0.23,0.06, 0.2,0.07, 0.17,0.08, 0.15,0.1, 0.17,0.13, 0.2,0.15, 0.24,0.17, 0.28,0.2, 0.32,0.22, 0.36,0.25, 0.4,0.27, 0.44,0.3, 0.48,0.32, 0.52,0.35, 0.56,0.37],
 [0,0.02, 0.03,0.06, 0.05,0.1, 0.07,0.15, 0.09,0.2, 0.1,0.26, 0.12,0.3, 0.15,0.33, 0.18,0.36, 0.21,0.38, 0.24,0.39, 0.28,0.41, 0.32,0.42, 0.36,0.44, 0.4,0.45, 0.44,0.47, 0.48,0.48, 0.52,0.5, 0.56,0.52, 0.6,0.54, 0.64,0.56, 0.68,0.58, 0.72,0.6, 0.76,0.62, 0.8,0.63, 0.84,0.65, 0.88,0.67, 0.92,0.69, 0.96,0.72, 1.0,0.74, 1.04,0.76, 1.08,0.77],
 [0.02,0.03, 0.05,0.06, 0.07,0.1, 0.09,0.14, 0.12,0.17, 0.15,0.21, 0.18,0.24, 0.21,0.28, 0.24,0.31, 0.27,0.35, 0.3,0.38, 0.33,0.42, 0.36,0.45, 0.39,0.49, 0.42,0.52, 0.45,0.56, 0.48,0.59, 0.51,0.63, 0.54,0.66, 0.57,0.7, 0.6,0.73, 0.63,0.77, 0.66,0.8, 0.7,0.83, 0.74,0.86, 0.78,0.88, 0.82,0.9, 0.86,0.92],
 [0.01,0.01, 0.05,0.02, 0.09,0.04, 0.13,0.05, 0.17,0.07, 0.21,0.09, 0.25,0.12, 0.29,0.14, 0.33,0.17, 0.37,0.19, 0.41,0.22, 0.45,0.24, 0.49,0.27, 0.53,0.29, 0.57,0.32, 0.61,0.34, 0.65,0.37, 0.69,0.39, 0.73,0.42, 0.77,0.44, 0.81,0.47, 0.85,0.49, 0.89,0.52, 0.93,0.54, 0.97,0.56, 1.01,0.58, 1.05,0.59, 1.09,0.61, 1.13,0.62],
 [0,0, 0.03,0.03, 0.06,0.07, 0.1,0.09, 0.13,0.13, 0.17,0.15, 0.2,0.19, 0.24,0.21, 0.27,0.25, 0.31,0.27, 0.34,0.31, 0.38,0.33, 0.41,0.37, 0.45,0.39, 0.48,0.42, 0.52,0.44, 0.55,0.47, 0.59,0.48, 0.62,0.5, 0.66,0.51, 0.7,0.53, 0.74,0.53, 0.78,0.55, 0.82,0.55, 0.86,0.57, 0.9,0.57, 0.94,0.59, 0.98,0.58, 1.02,0.6]
];

function toPoints(flat) {
  const pts = [];
  for (let i = 0; i < flat.length; i += 2) pts.push({x: flat[i], y: flat[i + 1]});
  return pts;
}

const rAxesPlugin = {
  id: 'rAxes',
  afterDraw(chart) {
    const {ctx, chartArea: a, scales} = chart;
    const xs = scales.x, ys = scales.y;
    ctx.save();
    ctx.strokeStyle = '#333';
    ctx.lineWidth = 1;
    const L = Math.round(a.left) + 0.5, T = Math.round(a.top) + 0.5;
    const R = Math.round(a.right) + 0.5, B = Math.round(a.bottom) + 0.5;
    ctx.strokeRect(L, T, R - L, B - T);
    const ay = B + 9;
    const xp = xTickValues.map(v => Math.round(xs.getPixelForValue(v)) + 0.5);
    ctx.beginPath();
    ctx.moveTo(xp[0], ay); ctx.lineTo(xp[xp.length - 1], ay);
    xp.forEach(p => { ctx.moveTo(p, ay); ctx.lineTo(p, ay + 7); });
    ctx.stroke();
    const ax = L - 4;
    const yp = yTickValues.map(v => Math.round(ys.getPixelForValue(v)) + 0.5);
    ctx.beginPath();
    ctx.moveTo(ax, yp[0]); ctx.lineTo(ax, yp[yp.length - 1]);
    yp.forEach(p => { ctx.moveTo(ax, p); ctx.lineTo(ax - 6, p); });
    ctx.stroke();
    ctx.restore();
  }
};

Chart.defaults.font.family = '"Liberation Sans", Arial, Helvetica, sans-serif';
Chart.defaults.color = '#000';

function makeChart(id, title, trials, yScaleW, yTitlePad) {
  const datasets = trials.map(t => ({
    data: toPoints(t),
    showLine: true,
    borderColor: '#000',
    borderWidth: 1.2,
    pointRadius: 0,
    pointHoverRadius: 0,
    tension: 0,
    fill: false
  }));
  return new Chart(document.getElementById(id), {
    type: 'scatter',
    data: {datasets},
    options: {
      responsive: false,
      animation: false,
      events: [],
      layout: {padding: {left: 0, right: 0, top: 0, bottom: 0}},
      plugins: {
        legend: {display: false},
        tooltip: {enabled: false},
        title: {
          display: true,
          text: title,
          color: '#000',
          font: {size: 22, weight: 'bold'},
          padding: {top: 10, bottom: 21.6}
        }
      },
      scales: {
        x: {
          type: 'linear',
          position: 'bottom',
          min: xLimits[0], max: xLimits[1],
          afterBuildTicks: s => { s.ticks = xTickValues.map(v => ({value: v})); },
          afterFit: s => { s.height = 75; s.paddingLeft = 0; s.paddingRight = 0; },
          grid: {display: false, drawTicks: false},
          border: {display: false},
          ticks: {
            color: '#000',
            font: {size: 18},
            padding: 17,
            maxRotation: 0,
            autoSkip: false,
            callback: v => Number(v).toFixed(1)
          },
          title: {display: true, text: xAxisTitle, color: '#000', font: {size: 20}, padding: {top: 0, bottom: 0}}
        },
        y: {
          type: 'linear',
          position: 'left',
          min: yLimits[0], max: yLimits[1],
          afterBuildTicks: s => { s.ticks = yTickValues.map(v => ({value: v})); },
          afterFit: s => { s.width = yScaleW; s.paddingTop = 0; s.paddingBottom = 0; },
          grid: {display: false, drawTicks: false},
          border: {display: false},
          ticks: {
            color: '#000',
            font: {size: 18},
            padding: 19,
            minRotation: 90,
            maxRotation: 90,
            crossAlign: 'center',
            autoSkip: false,
            callback: v => Number(v).toFixed(1)
          },
          title: {display: true, text: yAxisTitle, color: '#000', font: {size: 20}, padding: {top: yTitlePad, bottom: 0}}
        },
        ySpacer: {
          type: 'linear',
          position: 'right',
          afterFit: s => { s.width = yScaleW; s.paddingTop = 0; s.paddingBottom = 0; },
          grid: {display: false, drawTicks: false},
          border: {display: false},
          ticks: {display: false},
          title: {display: false}
        }
      }
    },
    plugins: [rAxesPlugin]
  });
}

makeChart('c1', panelTitles[0], impedimentTrials, 85, 10);
makeChart('c2', panelTitles[1], controlTrials, 99, 24);
</script>
</body>
</html>
